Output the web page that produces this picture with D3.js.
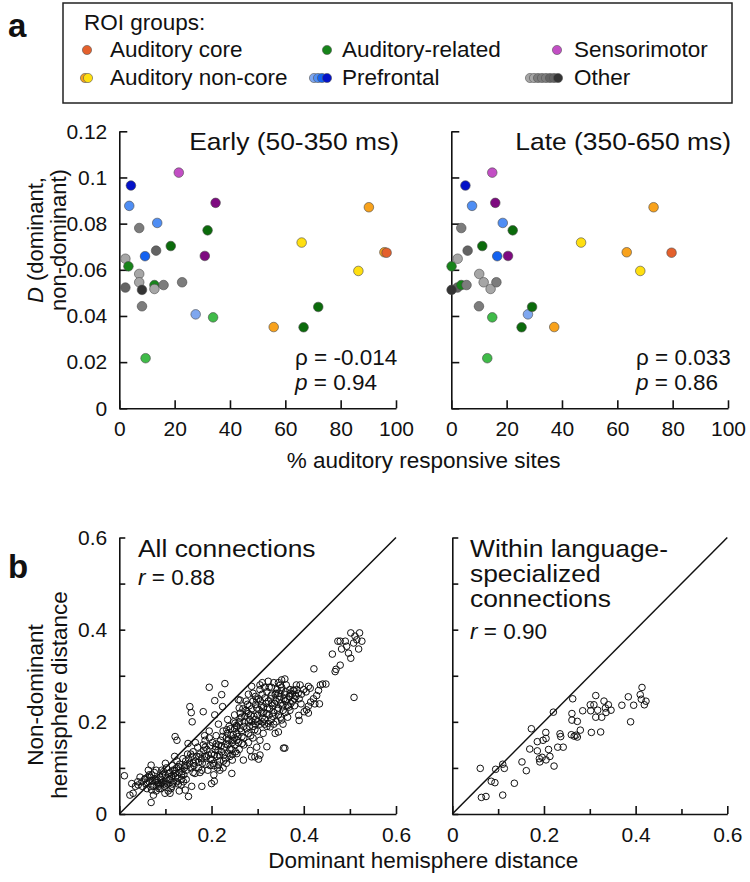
<!DOCTYPE html>
<html><head><meta charset="utf-8">
<script src="https://cdn.jsdelivr.net/npm/d3@7"></script>
<style>
body{margin:0;background:#fff}
text{font-family:"Liberation Sans",Arial,Helvetica,sans-serif;fill:#111}
</style>
</head><body>
<svg id="c" width="750" height="882"></svg>
<script>
// ---------------- DATA ----------------
const roiGroups = ["Prefrontal","Prefrontal","Sensorimotor","Sensorimotor","Other","Prefrontal","Auditory-related","Auditory non-core","Auditory non-core","Auditory-related","Other","Prefrontal","Sensorimotor","Auditory non-core","Auditory core","Other","Auditory-related","Auditory non-core","Other","Other","Other","Other","Auditory-related","Other","Other","Other","Other","Prefrontal","Auditory-related","Auditory non-core","Auditory-related","Auditory-related","Auditory-related"];
const roiShade = ["pfDark","pfLight","smLight","smDark","gray3","pfLight","arDark","ncYellow","ncOrange","arDark","gray2","pfMed","smDark","ncOrange","core","gray4","arMid","ncYellow","gray4","gray4","gray2","gray1","arMid","gray4","gray3","gray3","gray3","pfLighter","arLight","ncOrange","arDark","arDark","arLight"];
const earlyPct = [4.2,3.6,21.5,34.8,7.2,13.7,31.9,65.9,90.2,18.6,13.3,9.3,30.9,95.8,96.6,2.2,3.3,86.4,7.2,7.2,2.2,8.2,12.7,12.7,16.0,22.7,8.2,27.6,33.9,55.8,66.6,71.9,9.5];
const latePct  = [5.1,7.5,14.8,15.9,3.6,18.6,22.2,46.9,73.1,11.2,5.9,16.6,20.5,63.4,79.6,2.3,0.1,68.3,10.1,11.7,2.2,0.1,3.6,14.2,5.5,16.3,10.0,27.7,14.8,37.2,25.4,29.2,13.0];
const dValues  = [0.0965,0.0877,0.1021,0.0890,0.0781,0.0803,0.0771,0.0718,0.0871,0.0703,0.0683,0.0659,0.0660,0.0676,0.0674,0.0648,0.0615,0.0595,0.0582,0.0546,0.0523,0.0513,0.0534,0.0517,0.0534,0.0546,0.0442,0.0407,0.0394,0.0352,0.0351,0.0439,0.0217];
const panelATitles = ["Early (50-350 ms)","Late (350-650 ms)"];
const panelARho = ["-0.014","0.033"];
const panelAP = ["0.94","0.86"];
const aXTicks = [0,20,40,60,80,100];
const aYTicks = [0,0.02,0.04,0.06,0.08,0.1,0.12];
const bTicks = [0,0.1,0.2,0.3,0.4,0.5,0.6];
const bLabelTicks = [0,0.2,0.4,0.6];
const panelBR = ["0.88","0.90"];

// Panel b: [dominant, non-dominant] distances
const allConnections = [
[0.011,0.083],[0.023,0.041],[0.027,0.066],[0.041,0.063],[0.049,0.070],[0.056,0.077],[0.063,0.095],[0.069,0.106],[0.066,0.080],[0.070,0.052],[0.069,0.025],[0.074,0.041],[0.081,0.074],[0.085,0.060],[0.092,0.068],[0.096,0.092],[0.099,0.045],[0.106,0.050],[0.110,0.074],[0.114,0.060],[0.117,0.084],[0.121,0.168],[0.125,0.160],[0.128,0.103],[0.134,0.063],[0.139,0.070],[0.143,0.052],[0.149,0.153],[0.150,0.038],[0.153,0.233],[0.156,0.220],[0.158,0.200],[0.161,0.110],[0.164,0.088],[0.157,0.060],[0.173,0.124],[0.182,0.222],[0.179,0.060],[0.186,0.160],[0.189,0.124],[0.195,0.275],[0.200,0.066],[0.206,0.071],[0.207,0.246],[0.207,0.215],[0.209,0.146],[0.204,0.110],[0.215,0.106],[0.218,0.095],[0.222,0.259],[0.224,0.233],[0.229,0.283],[0.233,0.183],[0.236,0.132],[0.244,0.088],[0.245,0.117],[0.251,0.197],[0.258,0.248],[0.262,0.219],[0.266,0.153],[0.269,0.117],[0.277,0.222],[0.280,0.175],[0.287,0.124],[0.294,0.183],[0.298,0.248],[0.302,0.119],[0.305,0.128],[0.309,0.219],[0.320,0.146],[0.323,0.197],[0.331,0.241],[0.338,0.175],[0.345,0.262],[0.356,0.143],
[0.462,0.347],[0.468,0.309],[0.470,0.314],[0.479,0.323],[0.479,0.375],[0.474,0.375],[0.482,0.358],[0.493,0.364],[0.502,0.393],[0.511,0.386],[0.521,0.393],[0.515,0.378],[0.526,0.375],[0.508,0.371],[0.497,0.349],[0.502,0.338],[0.519,0.358],[0.490,0.375],[0.509,0.253],[0.422,0.315],[0.359,0.143],
[0.392,0.280],[0.410,0.277],[0.414,0.273],[0.436,0.280],[0.441,0.282],[0.448,0.282],[0.432,0.268],[0.428,0.257],[0.421,0.250],[0.415,0.243],[0.424,0.239],[0.434,0.239],[0.410,0.234],[0.401,0.222],[0.389,0.214],[0.390,0.203],[0.394,0.239],[0.384,0.280],[0.406,0.226],[0.410,0.219],[0.377,0.269],[0.370,0.255],[0.352,0.291],[0.359,0.293],[0.349,0.280],[0.323,0.288],[0.305,0.280],[0.287,0.277],[0.262,0.247],[0.345,0.178],[0.352,0.204],[0.327,0.189],[0.312,0.175],[0.305,0.160],[0.298,0.145],[0.284,0.138],[0.294,0.124],[0.247,0.160],[0.255,0.131],
[0.26,0.2],[0.265,0.21],[0.27,0.19],[0.275,0.225],[0.28,0.2],[0.282,0.235],[0.285,0.215],[0.29,0.19],[0.29,0.245],[0.295,0.205],[0.298,0.23],[0.3,0.215],[0.302,0.25],[0.305,0.195],[0.308,0.235],[0.31,0.26],[0.312,0.22],[0.315,0.205],[0.318,0.24],[0.32,0.265],[0.322,0.23],[0.325,0.215],[0.328,0.25],[0.33,0.275],[0.332,0.235],[0.335,0.22],[0.338,0.26],[0.34,0.245],[0.342,0.27],[0.345,0.23],[0.348,0.255],[0.35,0.24],[0.352,0.275],[0.355,0.225],[0.358,0.26],[0.36,0.245],[0.362,0.28],[0.365,0.235],[0.368,0.255],[0.37,0.27],[0.372,0.24],[0.375,0.26],[0.38,0.25],[0.385,0.27],[0.365,0.21],[0.355,0.195],[0.34,0.2],[0.32,0.19],[0.3,0.18],[0.285,0.17],[0.27,0.165],[0.31,0.2],[0.33,0.205],[0.345,0.215],[0.295,0.255],[0.275,0.245],[0.26,0.23],[0.25,0.215],[0.255,0.19],[0.265,0.18],[0.28,0.26],[0.315,0.275],[0.335,0.285],[0.305,0.27],
[0.262,0.208],[0.268,0.228],[0.272,0.212],[0.278,0.238],[0.283,0.205],[0.287,0.228],[0.292,0.212],[0.296,0.238],[0.3,0.2],[0.303,0.226],[0.306,0.245],[0.31,0.21],[0.313,0.232],[0.316,0.252],[0.319,0.218],[0.323,0.245],[0.326,0.228],[0.33,0.258],[0.333,0.212],[0.337,0.24],[0.34,0.262],[0.343,0.225],[0.347,0.248],[0.351,0.268],[0.354,0.235],[0.357,0.25],[0.361,0.265],[0.364,0.248],[0.368,0.232],[0.371,0.262],[0.376,0.245],[0.379,0.268],[0.383,0.255],[0.388,0.262],[0.325,0.275],[0.345,0.285],[0.31,0.285],[0.29,0.262],[0.28,0.218],[0.295,0.195],[0.315,0.195],[0.335,0.195],[0.35,0.21],[0.36,0.22],[0.37,0.225],[0.38,0.235],[0.39,0.25],[0.395,0.26],[0.4,0.27],[0.405,0.265],
[0.15,0.12],[0.155,0.1],[0.16,0.135],[0.165,0.115],[0.17,0.145],[0.172,0.1],[0.175,0.13],[0.18,0.11],[0.182,0.15],[0.185,0.125],[0.19,0.14],[0.192,0.095],[0.195,0.165],[0.198,0.12],[0.2,0.13],[0.202,0.155],[0.205,0.105],[0.208,0.14],[0.21,0.17],[0.212,0.125],[0.215,0.15],[0.218,0.115],[0.22,0.16],[0.222,0.135],[0.225,0.18],[0.228,0.145],[0.23,0.12],[0.232,0.165],[0.235,0.15],[0.238,0.19],[0.24,0.14],[0.242,0.17],[0.245,0.155],[0.248,0.2],[0.25,0.165],[0.252,0.135],[0.255,0.175],[0.258,0.155],[0.195,0.18],[0.215,0.195],[0.185,0.17],[0.165,0.155],[0.235,0.205],[0.175,0.09],[0.16,0.09],[0.205,0.085],[0.225,0.1],[0.24,0.125],[0.26,0.14],[0.27,0.15],[0.28,0.155],[0.29,0.165],[0.25,0.185],
[0.178,0.12],[0.183,0.138],[0.188,0.108],[0.193,0.128],[0.197,0.148],[0.201,0.118],[0.206,0.128],[0.21,0.152],[0.214,0.138],[0.217,0.128],[0.221,0.148],[0.224,0.168],[0.227,0.128],[0.231,0.152],[0.234,0.175],[0.237,0.16],[0.241,0.185],[0.244,0.14],[0.247,0.172],[0.251,0.15],[0.254,0.192],[0.257,0.168],[0.262,0.185],[0.266,0.168],[0.271,0.2],[0.276,0.185],[0.282,0.19],[0.288,0.2],[0.168,0.125],[0.162,0.105],[0.158,0.125],[0.172,0.112],[0.179,0.095],[0.186,0.145],[0.197,0.105],[0.213,0.1],[0.226,0.115],[0.232,0.11],[0.245,0.13],[0.255,0.16],
[0.05,0.06],[0.055,0.075],[0.06,0.055],[0.065,0.07],[0.07,0.085],[0.075,0.06],[0.078,0.075],[0.08,0.05],[0.085,0.065],[0.088,0.08],[0.09,0.055],[0.092,0.095],[0.095,0.07],[0.098,0.06],[0.1,0.085],[0.102,0.1],[0.105,0.065],[0.108,0.075],[0.11,0.09],[0.112,0.055],[0.115,0.105],[0.118,0.07],[0.12,0.095],[0.122,0.08],[0.125,0.115],[0.128,0.065],[0.13,0.09],[0.132,0.1],[0.135,0.075],[0.138,0.12],[0.14,0.085],[0.142,0.105],[0.145,0.095],[0.148,0.13],[0.12,0.125],[0.1,0.11],[0.08,0.095],[0.065,0.085],[0.045,0.08],[0.035,0.06],[0.03,0.045],[0.04,0.07],[0.11,0.045],[0.13,0.05],
[0.058,0.065],[0.062,0.08],[0.068,0.06],[0.072,0.072],[0.076,0.09],[0.082,0.068],[0.086,0.055],[0.09,0.075],[0.094,0.085],[0.097,0.065],[0.103,0.078],[0.107,0.088],[0.113,0.082],[0.116,0.095],[0.121,0.088],[0.124,0.1],[0.127,0.078],[0.131,0.108],[0.136,0.092],[0.141,0.1],[0.144,0.115],[0.147,0.105],[0.152,0.11],[0.155,0.13],[0.09,0.065],[0.1,0.07],[0.115,0.065],[0.125,0.07],[0.135,0.085],[0.145,0.075]
];
const languageConnections = [
[0.061,0.099],[0.0635,0.036],[0.0735,0.038],[0.085,0.071],[0.093,0.068],[0.0946,0.097],[0.110,0.108],[0.1135,0.099],[0.110,0.041],[0.1354,0.0667],[0.152,0.113],[0.1615,0.094],[0.169,0.141],[0.1725,0.185],[0.1855,0.157],[0.1855,0.137],[0.190,0.120],[0.191,0.113],[0.196,0.123],[0.198,0.160],[0.204,0.177],[0.2045,0.164],[0.2045,0.1174],[0.210,0.140],[0.213,0.125],[0.2205,0.221],[0.222,0.104],[0.230,0.145],[0.235,0.174],[0.2365,0.168],[0.242,0.145],[0.2597,0.172],[0.261,0.218],[0.261,0.2037],[0.2627,0.250],[0.266,0.169],[0.270,0.171],[0.2728,0.167],[0.2728,0.201],[0.2793,0.182],[0.2845,0.224],[0.301,0.237],[0.3034,0.177],[0.302,0.224],[0.309,0.237],[0.313,0.257],[0.313,0.210],[0.3172,0.2253],[0.3237,0.178],[0.326,0.210],[0.331,0.245],[0.334,0.230],[0.3355,0.2203],[0.3405,0.237],[0.3463,0.2253],[0.370,0.236],[0.384,0.2543],[0.389,0.200],[0.3957,0.236],[0.410,0.259],[0.4139,0.2746],[0.4124,0.249],[0.419,0.237],[0.4226,0.2448]
];

// ---------------- STYLE ----------------
const shadeColors = {
  core:"#e4602c", ncOrange:"#f8a21c", ncYellow:"#ffdf10",
  arDark:"#0b6b0b", arMid:"#17841a", arLight:"#3fbb48",
  pfDark:"#0412c8", pfMed:"#1462f0", pfLight:"#4f8ef4", pfLighter:"#7fa7ef",
  smLight:"#c24ec4", smDark:"#7e0a80",
  gray1:"#343434", gray2:"#636363", gray3:"#7c7c7c", gray4:"#a6a6a6"
};
const FONT = "'Liberation Sans',Arial,Helvetica,sans-serif";
const FS_TICK = 21, FS_LEG = 22.5, FS_TITLE = 24, FS_STAT = 22.5, FS_AX = 22.5, FS_YL = 22;
const svg = d3.select("#c");

// text helper with slight horizontal stretch (to match reference glyph widths)
function wideText(x, y, str, fs, anchor, sx){
  const g = svg.append("g").attr("transform",`translate(${x},${y}) scale(${sx},1)`);
  return g.append("text").attr("x",0).attr("y",0).attr("font-size",fs)
    .attr("text-anchor",anchor||"start").text(str);
}

// ---------------- LEGEND ----------------
svg.append("rect").attr("x",63).attr("y",3).attr("width",669).attr("height",100)
  .attr("fill","none").attr("stroke","#222").attr("stroke-width",1.5);
svg.append("text").attr("x",8).attr("y",37).attr("font-size",33).attr("font-weight","bold").text("a");
svg.append("text").attr("x",84).attr("y",30).attr("font-size",FS_LEG).text("ROI groups:");
function legCircles(list, cy){
  list.forEach(([cx,c])=>svg.append("circle").attr("cx",cx).attr("cy",cy).attr("r",4.6)
    .attr("fill",shadeColors[c]).attr("stroke","#555").attr("stroke-width",0.6));
}
const r1 = 57, r2 = 85;
legCircles([[87,"core"]], r1-7);
svg.append("text").attr("x",110).attr("y",r1).attr("font-size",FS_LEG).text("Auditory core");
legCircles([[327,"arMid"]], r1-7);
svg.append("text").attr("x",342).attr("y",r1).attr("font-size",FS_LEG).text("Auditory-related");
legCircles([[557,"smLight"]], r1-7);
svg.append("text").attr("x",574).attr("y",r1).attr("font-size",FS_LEG).text("Sensorimotor");
legCircles([[85,"ncOrange"],[88,"ncYellow"]], r2-7);
svg.append("text").attr("x",110).attr("y",r2).attr("font-size",FS_LEG).text("Auditory non-core");
legCircles([[314,"pfLighter"],[318,"pfLight"],[322,"pfMed"],[327,"pfDark"]], r2-7);
svg.append("text").attr("x",342).attr("y",r2).attr("font-size",FS_LEG).text("Prefrontal");
legCircles([[530,"gray4"],[534,"gray4"],[538,"gray3"],[542,"gray3"],[546,"gray3"],[550,"gray2"],[554,"gray2"],[558,"gray1"]], r2-7);
svg.append("text").attr("x",574).attr("y",r2).attr("font-size",FS_LEG).text("Other");

// ---------------- PANEL A ----------------
const yA = d3.scaleLinear().domain([0,0.12]).range([408.3,131.3]);
const xAs = [d3.scaleLinear().domain([0,100]).range([119.3,396]),
             d3.scaleLinear().domain([0,100]).range([451.3,728])];
const fmtA = d => d===0 ? "0" : String(+d.toFixed(2));
function styleAxis(g){
  g.attr("font-family",FONT).attr("font-size",FS_TICK);
  g.selectAll("path.domain").attr("stroke","#111").attr("stroke-width",1.6);
  g.selectAll(".tick line").attr("stroke","#111").attr("stroke-width",1.6);
  g.selectAll(".tick text").attr("fill","#111");
}
[0,1].forEach(i=>{
  const x = xAs[i];
  const pct = i===0 ? earlyPct : latePct;
  svg.append("g").attr("transform",`translate(0,${yA(0)})`)
    .call(d3.axisBottom(x).tickValues(aXTicks).tickSizeInner(-8).tickSizeOuter(0).tickPadding(13))
    .call(styleAxis);
  svg.append("g").attr("transform",`translate(${x(0)},0)`)
    .call(d3.axisLeft(yA).tickValues(aYTicks).tickSizeInner(-8).tickSizeOuter(0).tickPadding(12)
      .tickFormat(i===0 ? fmtA : ()=>""))
    .call(styleAxis);
  svg.append("g").selectAll("circle").data(dValues).join("circle")
    .attr("cx",(d,k)=>x(pct[k])).attr("cy",d=>yA(d)).attr("r",4.8)
    .attr("fill",(d,k)=>shadeColors[roiShade[k]]).attr("stroke","#4a4a4a").attr("stroke-width",0.6);
  wideText(x(100)+3, 150, panelATitles[i], FS_TITLE, "end", 1.1);
  const tx = i===0 ? 295 : 636;
  svg.append("text").attr("x",tx).attr("y",365).attr("font-size",FS_STAT).text("ρ = " + panelARho[i]);
  const pt = svg.append("text").attr("x",tx).attr("y",390).attr("font-size",FS_STAT);
  pt.append("tspan").attr("font-style","italic").text("p");
  pt.append("tspan").text(" = " + panelAP[i]);
});
// y label panel a
const yla = svg.append("text").attr("transform","translate(0,240) rotate(-90)").attr("text-anchor","middle").attr("font-size",FS_YL);
const l1 = yla.append("tspan").attr("x",0).attr("y",43);
l1.append("tspan").attr("font-style","italic").text("D");
l1.append("tspan").text(" (dominant,");
yla.append("tspan").attr("x",0).attr("y",66).text("non-dominant)");
svg.append("text").attr("x",xAs[0](100)+ (xAs[1](0)-xAs[0](100))/2).attr("y",468).attr("text-anchor","middle")
  .attr("font-size",FS_AX).text("% auditory responsive sites");

// ---------------- PANEL B ----------------
svg.append("text").attr("x",8).attr("y",578).attr("font-size",33).attr("font-weight","bold").text("b");
const yB = d3.scaleLinear().domain([0,0.6]).range([814,537.5]);
const xBs = [d3.scaleLinear().domain([0,0.6]).range([119.3,396]),
             d3.scaleLinear().domain([0,0.6]).range([452.3,727.3])];
const fmtB = d => bLabelTicks.some(t=>Math.abs(t-d)<1e-9) ? (d===0?"0":String(+d.toFixed(1))) : "";
const bData = [allConnections, languageConnections];
[0,1].forEach(i=>{
  const x = xBs[i];
  const gx = svg.append("g").attr("transform",`translate(0,${yB(0)})`)
    .call(d3.axisBottom(x).tickValues(bTicks).tickSizeInner(-8).tickSizeOuter(0).tickPadding(13).tickFormat(fmtB))
    .call(styleAxis);
  gx.selectAll(".tick line").attr("y2",d=>fmtB(d)==="" ? -5 : -8);
  svg.append("g").attr("transform",`translate(${x(0)},0)`)
    .call(d3.axisLeft(yB).tickValues(bTicks).tickSizeInner(-6).tickSizeOuter(0).tickPadding(12)
      .tickFormat(i===0 ? fmtB : ()=>""))
    .call(styleAxis);
  svg.append("line").attr("x1",x(0)).attr("y1",yB(0)).attr("x2",x(0.6)).attr("y2",yB(0.6))
    .attr("stroke","#111").attr("stroke-width",1.5);
  svg.append("g").selectAll("circle").data(bData[i]).join("circle")
    .attr("cx",d=>x(d[0])).attr("cy",d=>yB(d[1])).attr("r",3.3)
    .attr("fill","none").attr("stroke","#111").attr("stroke-width",1);
});
wideText(138, 557, "All connections", FS_TITLE, "start", 1.1);
const rt1 = svg.append("text").attr("x",138).attr("y",585).attr("font-size",FS_STAT);
rt1.append("tspan").attr("font-style","italic").text("r");
rt1.append("tspan").text(" = " + panelBR[0]);
wideText(470, 557, "Within language-", FS_TITLE, "start", 1.1);
wideText(470, 582, "specialized", FS_TITLE, "start", 1.1);
wideText(470, 607, "connections", FS_TITLE, "start", 1.1);
const rt2 = svg.append("text").attr("x",470).attr("y",639).attr("font-size",FS_STAT);
rt2.append("tspan").attr("font-style","italic").text("r");
rt2.append("tspan").text(" = " + panelBR[1]);
const ylb = svg.append("text").attr("transform","translate(0,695) rotate(-90)").attr("text-anchor","middle").attr("font-size",FS_AX);
ylb.append("tspan").attr("x",0).attr("y",43).text("Non-dominant");
ylb.append("tspan").attr("x",0).attr("y",67).text("hemisphere distance");
svg.append("text").attr("x",(xBs[0](0)+xBs[1](0.6))/2).attr("y",868).attr("text-anchor","middle")
  .attr("font-size",FS_AX).text("Dominant hemisphere distance");
</script>
</body></html>
